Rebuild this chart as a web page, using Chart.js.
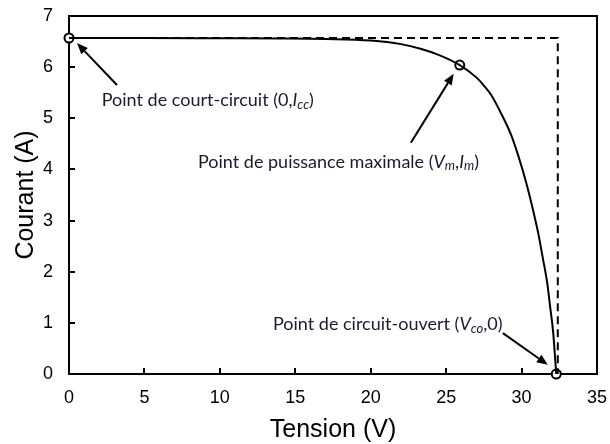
<!DOCTYPE html>
<html>
<head>
<meta charset="utf-8">
<script src="https://cdn.jsdelivr.net/npm/chart.js@4"></script>
<style>
  html, body { margin: 0; padding: 0; background: #fff; }
  #wrap { width: 610px; height: 444px; }
</style>
</head>
<body>
<div id="wrap"><canvas id="ivChart" width="610" height="444"></canvas></div>
<script>
// I-V curve
const tension = [0, 5, 10, 14, 17, 20, 22, 23.3, 24.5, 25.9, 27, 27.5, 28, 28.6, 29.3, 29.8, 30.3, 30.7, 31.1, 31.4, 31.7, 31.9, 32.1, 32.2, 32.3];
const courant = [6.57, 6.57, 6.565, 6.56, 6.55, 6.52, 6.45, 6.36, 6.24, 6.04, 5.8, 5.64, 5.45, 5.12, 4.68, 4.25, 3.75, 3.28, 2.76, 2.28, 1.78, 1.3, 0.8, 0.4, 0];

// dashed rectangle Isc x Voc
const rectV = [0, 32.4, 32.4];
const rectI = [6.57, 6.57, 0];

// key points: court-circuit, puissance max, circuit-ouvert
const pointsV = [0, 25.9, 32.3];
const pointsI = [6.57, 6.04, 0];

const xTicks = [0, 5, 10, 15, 20, 25, 30, 35];
const yTicks = [0, 1, 2, 3, 4, 5, 6, 7];

// annotations (data units): arrow tail -> tip, label left/middle
const arrows = [
    { from: [3.18, 5.65], to: [0.53, 6.47] },
    { from: [22.66, 4.52], to: [25.5, 5.87] },
    { from: [28.76, 0.80], to: [31.74, 0.18] }
];
const labels = [
    { at: [2.17, 5.36], parts: [['Point de court-circuit (0,'], ['I', 'i'], ['cc', 's'], [')']] },
    { at: [8.55, 4.15], parts: [['Point de puissance maximale ('], ['V', 'i'], ['m', 's'], [','], ['I', 'i'], ['m', 's'], [')']] },
    { at: [13.52, 0.98], parts: [['Point de circuit-ouvert ('], ['V', 'i'], ['co', 's'], [',0)']] }
];

const toXY = (xs, ys) => xs.map((x, i) => ({ x, y: ys[i] }));

const annotate = {
    id: 'annotate',
    afterDatasetsDraw(chart) {
        const { ctx, chartArea: a, scales: { x, y } } = chart;
        ctx.save();
        ctx.strokeStyle = '#000';
        ctx.lineWidth = 2;

        // box top/right
        ctx.beginPath();
        ctx.moveTo(a.left, a.top);
        ctx.lineTo(a.right, a.top);
        ctx.lineTo(a.right, a.bottom);
        ctx.stroke();

        // inside ticks
        ctx.beginPath();
        xTicks.slice(1, -1).forEach(v => {
            const px = Math.round(x.getPixelForValue(v));
            ctx.moveTo(px, a.bottom);
            ctx.lineTo(px, a.bottom - 6);
        });
        yTicks.slice(1, -1).forEach(v => {
            const py = Math.round(y.getPixelForValue(v));
            ctx.moveTo(a.left, py);
            ctx.lineTo(a.left + 6, py);
        });
        ctx.stroke();

        // arrows
        ctx.fillStyle = '#000';
        arrows.forEach(ar => {
            const x0 = x.getPixelForValue(ar.from[0]), y0 = y.getPixelForValue(ar.from[1]);
            const x1 = x.getPixelForValue(ar.to[0]), y1 = y.getPixelForValue(ar.to[1]);
            const ang = Math.atan2(y1 - y0, x1 - x0);
            const len = 11, w = 4.5;
            const bx = x1 - len * Math.cos(ang), by = y1 - len * Math.sin(ang);
            ctx.beginPath();
            ctx.moveTo(x0, y0);
            ctx.lineTo(bx, by);
            ctx.stroke();
            ctx.beginPath();
            ctx.moveTo(x1, y1);
            ctx.lineTo(bx + w * Math.sin(ang), by - w * Math.cos(ang));
            ctx.lineTo(bx - w * Math.sin(ang), by + w * Math.cos(ang));
            ctx.closePath();
            ctx.fill();
        });

        // labels with italic / subscript parts
        ctx.fillStyle = '#1a1a30';
        ctx.textBaseline = 'middle';
        ctx.textAlign = 'left';
        labels.forEach(lb => {
            let px = x.getPixelForValue(lb.at[0]);
            const py = y.getPixelForValue(lb.at[1]);
            lb.parts.forEach(([t, st]) => {
                const sub = st === 's';
                ctx.font = (st ? 'italic ' : '') + (sub ? '13px' : '18px') + ' Lato';
                ctx.fillText(t, px, sub ? py + 4.5 : py);
                px += ctx.measureText(t).width;
            });
        });
        ctx.restore();
    }
};

const tickFont = { family: '"Liberation Sans", Arial', size: 18 };
const titleFont = { family: '"Liberation Sans", Arial', size: 25, lineHeight: 1 };

new Chart(document.getElementById('ivChart').getContext('2d'), {
    type: 'scatter',
    data: {
        datasets: [
            {
                data: toXY(rectV, rectI),
                showLine: true,
                borderColor: '#000',
                borderWidth: 2,
                borderDash: [8, 5],
                pointRadius: 0
            },
            {
                data: toXY(tension, courant),
                showLine: true,
                borderColor: '#000',
                borderWidth: 2,
                cubicInterpolationMode: 'monotone',
                pointRadius: 0
            },
            {
                data: toXY(pointsV, pointsI),
                showLine: false,
                pointRadius: 4.5,
                pointBorderWidth: 2,
                pointBackgroundColor: '#fff',
                pointBorderColor: '#000'
            }
        ]
    },
    options: {
        responsive: false,
        animation: false,
        clip: false,
        layout: { padding: { top: 16, right: 13, left: 0, bottom: 0 } },
        plugins: {
            legend: { display: false },
            tooltip: { enabled: false }
        },
        scales: {
            x: {
                type: 'linear',
                min: 0,
                max: 35,
                afterFit: s => { s.height = 70; s.paddingLeft = 0; s.paddingRight = 0; },
                afterBuildTicks: s => { s.ticks = xTicks.map(v => ({ value: v })); },
                grid: { display: false },
                border: { display: true, color: '#000', width: 2 },
                ticks: { padding: 5, color: '#000', font: tickFont },
                title: { display: true, text: 'Tension (V)', color: '#000', font: titleFont, padding: { top: 0, bottom: 1 } }
            },
            y: {
                type: 'linear',
                min: 0,
                max: 7,
                afterFit: s => { s.width = 69; s.paddingTop = 0; s.paddingBottom = 0; },
                afterBuildTicks: s => { s.ticks = yTicks.map(v => ({ value: v })); },
                grid: { display: false },
                border: { display: true, color: '#000', width: 2 },
                ticks: { padding: 8, color: '#000', font: tickFont },
                title: { display: true, text: 'Courant (A)', color: '#000', font: titleFont, padding: { top: 14, bottom: 0 } }
            }
        }
    },
    plugins: [annotate]
});
</script>
</body>
</html>
